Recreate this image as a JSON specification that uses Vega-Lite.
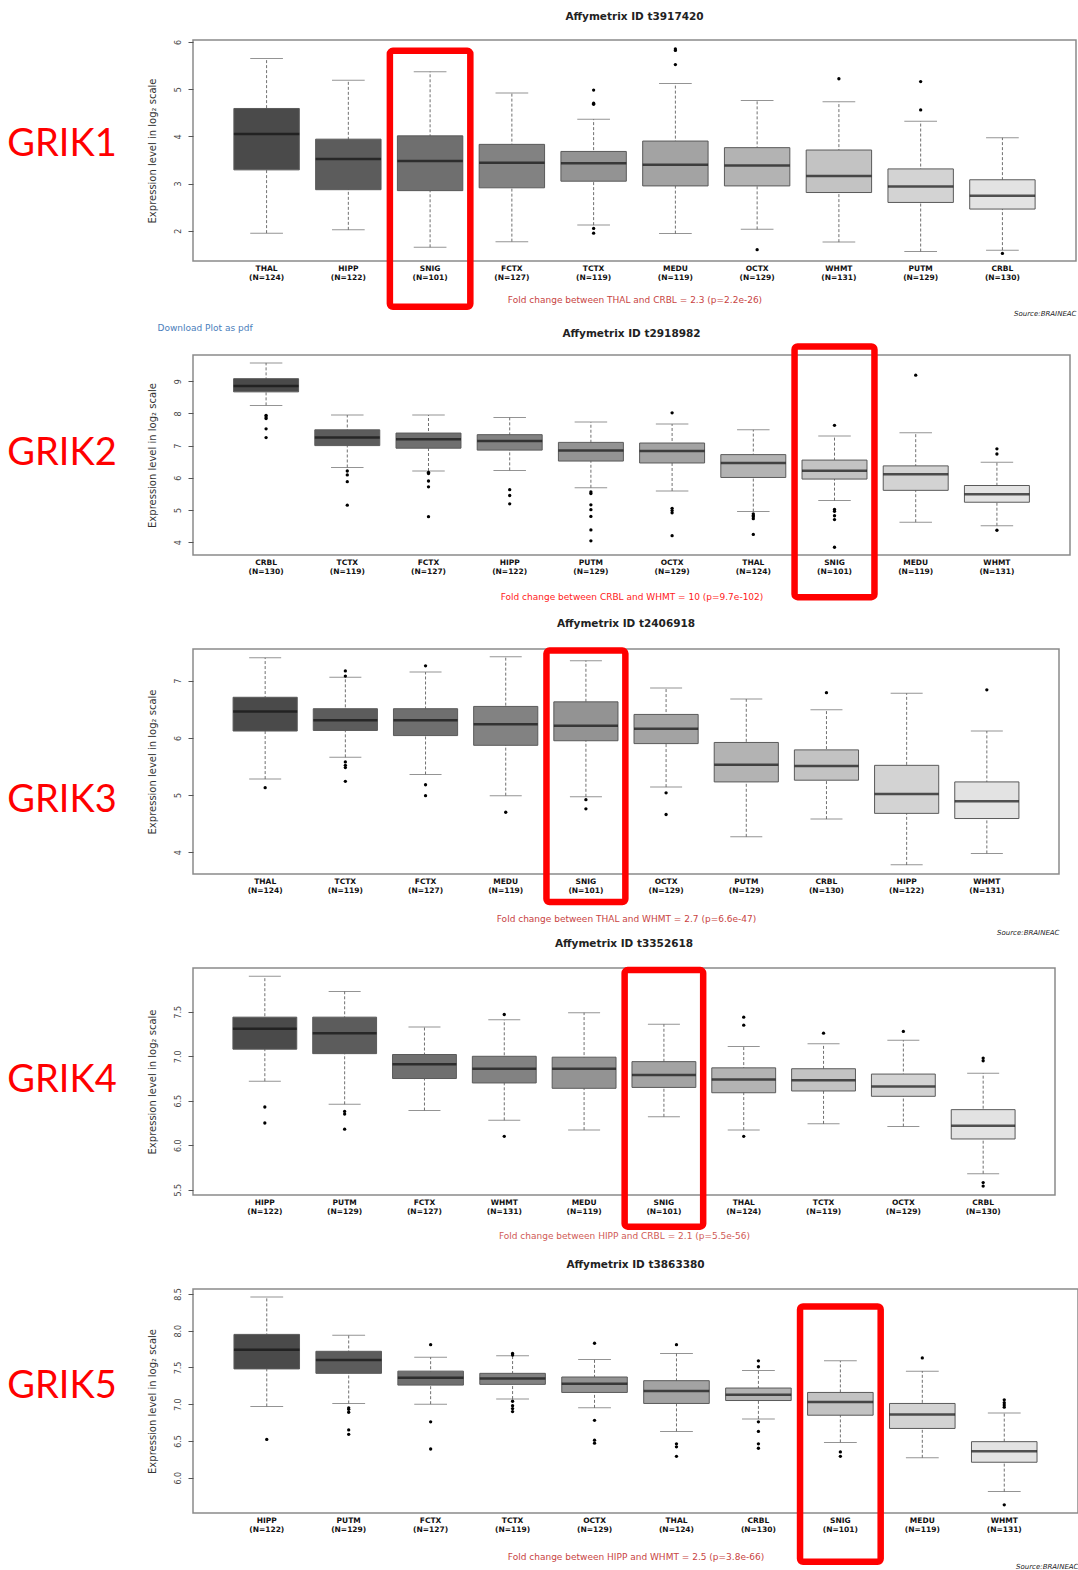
{
"$schema": "https://vega.github.io/schema/vega-lite/v6.json",
"background": "white",
"padding": {"top": 11, "left": 0, "right": 0, "bottom": 0},
"config": {
  "view": {"stroke": "#8a8a8a", "strokeWidth": 1.5},
  "font": "DejaVu Sans",
  "title": {"font": "DejaVu Sans", "fontSize": 10.5, "fontWeight": "bold", "color": "#222222", "offset": 17},
  "axis": {"labelFont": "DejaVu Sans", "titleFont": "DejaVu Sans", "grid": false},
  "axisY": {"labelOverlap": false, "labelSeparation": 0, "labelBound": false, "tickCount": 12}
},
"datasets": {
  "boxes": [
    {"gene":"GRIK1","region":"THAL (N=124)","lo":1.95,"q1":3.29,"med":4.05,"q3":4.59,"hi":5.65},
    {"gene":"GRIK1","region":"HIPP (N=122)","lo":2.02,"q1":2.87,"med":3.52,"q3":3.94,"hi":5.19},
    {"gene":"GRIK1","region":"SNIG (N=101)","lo":1.65,"q1":2.85,"med":3.48,"q3":4.01,"hi":5.37},
    {"gene":"GRIK1","region":"FCTX (N=127)","lo":1.77,"q1":2.91,"med":3.44,"q3":3.83,"hi":4.92},
    {"gene":"GRIK1","region":"TCTX (N=119)","lo":2.12,"q1":3.05,"med":3.43,"q3":3.68,"hi":4.36},
    {"gene":"GRIK1","region":"MEDU (N=119)","lo":1.94,"q1":2.95,"med":3.40,"q3":3.90,"hi":5.12},
    {"gene":"GRIK1","region":"OCTX (N=129)","lo":2.03,"q1":2.95,"med":3.38,"q3":3.76,"hi":4.76},
    {"gene":"GRIK1","region":"WHMT (N=131)","lo":1.76,"q1":2.81,"med":3.16,"q3":3.71,"hi":4.73},
    {"gene":"GRIK1","region":"PUTM (N=129)","lo":1.56,"q1":2.60,"med":2.94,"q3":3.31,"hi":4.32},
    {"gene":"GRIK1","region":"CRBL (N=130)","lo":1.59,"q1":2.46,"med":2.74,"q3":3.08,"hi":3.97},
    {"gene":"GRIK2","region":"CRBL (N=130)","lo":8.25,"q1":8.67,"med":8.85,"q3":9.08,"hi":9.57},
    {"gene":"GRIK2","region":"TCTX (N=119)","lo":6.32,"q1":7.00,"med":7.25,"q3":7.49,"hi":7.95},
    {"gene":"GRIK2","region":"FCTX (N=127)","lo":6.21,"q1":6.92,"med":7.20,"q3":7.39,"hi":7.95},
    {"gene":"GRIK2","region":"HIPP (N=122)","lo":6.23,"q1":6.86,"med":7.14,"q3":7.34,"hi":7.87},
    {"gene":"GRIK2","region":"PUTM (N=129)","lo":5.69,"q1":6.52,"med":6.85,"q3":7.10,"hi":7.73},
    {"gene":"GRIK2","region":"OCTX (N=129)","lo":5.59,"q1":6.46,"med":6.83,"q3":7.08,"hi":7.67},
    {"gene":"GRIK2","region":"THAL (N=124)","lo":4.95,"q1":6.01,"med":6.46,"q3":6.72,"hi":7.49},
    {"gene":"GRIK2","region":"SNIG (N=101)","lo":5.29,"q1":5.96,"med":6.22,"q3":6.55,"hi":7.30},
    {"gene":"GRIK2","region":"MEDU (N=119)","lo":4.62,"q1":5.61,"med":6.11,"q3":6.37,"hi":7.40},
    {"gene":"GRIK2","region":"WHMT (N=131)","lo":4.51,"q1":5.24,"med":5.49,"q3":5.76,"hi":6.48},
    {"gene":"GRIK3","region":"THAL (N=124)","lo":5.28,"q1":6.12,"med":6.46,"q3":6.71,"hi":7.40},
    {"gene":"GRIK3","region":"TCTX (N=119)","lo":5.66,"q1":6.13,"med":6.31,"q3":6.51,"hi":7.06},
    {"gene":"GRIK3","region":"FCTX (N=127)","lo":5.36,"q1":6.04,"med":6.31,"q3":6.51,"hi":7.15},
    {"gene":"GRIK3","region":"MEDU (N=119)","lo":4.99,"q1":5.87,"med":6.24,"q3":6.55,"hi":7.42},
    {"gene":"GRIK3","region":"SNIG (N=101)","lo":4.97,"q1":5.95,"med":6.21,"q3":6.63,"hi":7.35},
    {"gene":"GRIK3","region":"OCTX (N=129)","lo":5.14,"q1":5.90,"med":6.16,"q3":6.41,"hi":6.87},
    {"gene":"GRIK3","region":"PUTM (N=129)","lo":4.27,"q1":5.23,"med":5.53,"q3":5.92,"hi":6.68},
    {"gene":"GRIK3","region":"CRBL (N=130)","lo":4.58,"q1":5.26,"med":5.51,"q3":5.79,"hi":6.49},
    {"gene":"GRIK3","region":"HIPP (N=122)","lo":3.78,"q1":4.68,"med":5.02,"q3":5.52,"hi":6.78},
    {"gene":"GRIK3","region":"WHMT (N=131)","lo":3.98,"q1":4.59,"med":4.89,"q3":5.23,"hi":6.12},
    {"gene":"GRIK4","region":"HIPP (N=122)","lo":6.72,"q1":7.08,"med":7.31,"q3":7.44,"hi":7.90},
    {"gene":"GRIK4","region":"PUTM (N=129)","lo":6.46,"q1":7.03,"med":7.26,"q3":7.44,"hi":7.73},
    {"gene":"GRIK4","region":"FCTX (N=127)","lo":6.39,"q1":6.75,"med":6.91,"q3":7.02,"hi":7.33},
    {"gene":"GRIK4","region":"WHMT (N=131)","lo":6.28,"q1":6.70,"med":6.86,"q3":7.00,"hi":7.41},
    {"gene":"GRIK4","region":"MEDU (N=119)","lo":6.17,"q1":6.64,"med":6.86,"q3":6.99,"hi":7.49},
    {"gene":"GRIK4","region":"SNIG (N=101)","lo":6.32,"q1":6.65,"med":6.79,"q3":6.94,"hi":7.36},
    {"gene":"GRIK4","region":"THAL (N=124)","lo":6.17,"q1":6.59,"med":6.74,"q3":6.87,"hi":7.11},
    {"gene":"GRIK4","region":"TCTX (N=119)","lo":6.24,"q1":6.61,"med":6.73,"q3":6.86,"hi":7.14},
    {"gene":"GRIK4","region":"OCTX (N=129)","lo":6.21,"q1":6.55,"med":6.66,"q3":6.80,"hi":7.18},
    {"gene":"GRIK4","region":"CRBL (N=130)","lo":5.68,"q1":6.07,"med":6.22,"q3":6.40,"hi":6.81},
    {"gene":"GRIK5","region":"HIPP (N=122)","lo":6.97,"q1":7.48,"med":7.74,"q3":7.95,"hi":8.46},
    {"gene":"GRIK5","region":"PUTM (N=129)","lo":7.01,"q1":7.42,"med":7.60,"q3":7.72,"hi":7.94},
    {"gene":"GRIK5","region":"FCTX (N=127)","lo":7.00,"q1":7.26,"med":7.36,"q3":7.45,"hi":7.64},
    {"gene":"GRIK5","region":"TCTX (N=119)","lo":7.07,"q1":7.27,"med":7.35,"q3":7.42,"hi":7.66},
    {"gene":"GRIK5","region":"OCTX (N=129)","lo":6.95,"q1":7.16,"med":7.28,"q3":7.37,"hi":7.61},
    {"gene":"GRIK5","region":"THAL (N=124)","lo":6.63,"q1":7.01,"med":7.18,"q3":7.32,"hi":7.69},
    {"gene":"GRIK5","region":"CRBL (N=130)","lo":6.80,"q1":7.05,"med":7.13,"q3":7.22,"hi":7.46},
    {"gene":"GRIK5","region":"SNIG (N=101)","lo":6.48,"q1":6.85,"med":7.03,"q3":7.16,"hi":7.59},
    {"gene":"GRIK5","region":"MEDU (N=119)","lo":6.27,"q1":6.67,"med":6.86,"q3":7.01,"hi":7.45},
    {"gene":"GRIK5","region":"WHMT (N=131)","lo":5.81,"q1":6.21,"med":6.36,"q3":6.49,"hi":6.88}
  ],
  "outliers": [
    {"gene":"GRIK1","region":"TCTX (N=119)","value":4.98},
    {"gene":"GRIK1","region":"TCTX (N=119)","value":4.70},
    {"gene":"GRIK1","region":"TCTX (N=119)","value":4.68},
    {"gene":"GRIK1","region":"TCTX (N=119)","value":2.05},
    {"gene":"GRIK1","region":"TCTX (N=119)","value":1.95},
    {"gene":"GRIK1","region":"MEDU (N=119)","value":5.85},
    {"gene":"GRIK1","region":"MEDU (N=119)","value":5.82},
    {"gene":"GRIK1","region":"MEDU (N=119)","value":5.52},
    {"gene":"GRIK1","region":"OCTX (N=129)","value":1.60},
    {"gene":"GRIK1","region":"WHMT (N=131)","value":5.22},
    {"gene":"GRIK1","region":"PUTM (N=129)","value":5.16},
    {"gene":"GRIK1","region":"PUTM (N=129)","value":4.56},
    {"gene":"GRIK1","region":"CRBL (N=130)","value":1.52},
    {"gene":"GRIK2","region":"CRBL (N=130)","value":7.94},
    {"gene":"GRIK2","region":"CRBL (N=130)","value":7.89},
    {"gene":"GRIK2","region":"CRBL (N=130)","value":7.84},
    {"gene":"GRIK2","region":"CRBL (N=130)","value":7.52},
    {"gene":"GRIK2","region":"CRBL (N=130)","value":7.25},
    {"gene":"GRIK2","region":"TCTX (N=119)","value":6.21},
    {"gene":"GRIK2","region":"TCTX (N=119)","value":6.09},
    {"gene":"GRIK2","region":"TCTX (N=119)","value":5.88},
    {"gene":"GRIK2","region":"TCTX (N=119)","value":5.15},
    {"gene":"GRIK2","region":"FCTX (N=127)","value":6.17},
    {"gene":"GRIK2","region":"FCTX (N=127)","value":6.13},
    {"gene":"GRIK2","region":"FCTX (N=127)","value":5.90},
    {"gene":"GRIK2","region":"FCTX (N=127)","value":5.72},
    {"gene":"GRIK2","region":"FCTX (N=127)","value":4.79},
    {"gene":"GRIK2","region":"HIPP (N=122)","value":5.63},
    {"gene":"GRIK2","region":"HIPP (N=122)","value":5.45},
    {"gene":"GRIK2","region":"HIPP (N=122)","value":5.19},
    {"gene":"GRIK2","region":"PUTM (N=129)","value":5.56},
    {"gene":"GRIK2","region":"PUTM (N=129)","value":5.51},
    {"gene":"GRIK2","region":"PUTM (N=129)","value":5.16},
    {"gene":"GRIK2","region":"PUTM (N=129)","value":5.01},
    {"gene":"GRIK2","region":"PUTM (N=129)","value":4.80},
    {"gene":"GRIK2","region":"PUTM (N=129)","value":4.38},
    {"gene":"GRIK2","region":"PUTM (N=129)","value":4.04},
    {"gene":"GRIK2","region":"OCTX (N=129)","value":8.02},
    {"gene":"GRIK2","region":"OCTX (N=129)","value":5.05},
    {"gene":"GRIK2","region":"OCTX (N=129)","value":4.98},
    {"gene":"GRIK2","region":"OCTX (N=129)","value":4.91},
    {"gene":"GRIK2","region":"OCTX (N=129)","value":4.20},
    {"gene":"GRIK2","region":"THAL (N=124)","value":4.88},
    {"gene":"GRIK2","region":"THAL (N=124)","value":4.83},
    {"gene":"GRIK2","region":"THAL (N=124)","value":4.79},
    {"gene":"GRIK2","region":"THAL (N=124)","value":4.73},
    {"gene":"GRIK2","region":"THAL (N=124)","value":4.24},
    {"gene":"GRIK2","region":"SNIG (N=101)","value":7.63},
    {"gene":"GRIK2","region":"SNIG (N=101)","value":5.02},
    {"gene":"GRIK2","region":"SNIG (N=101)","value":4.96},
    {"gene":"GRIK2","region":"SNIG (N=101)","value":4.82},
    {"gene":"GRIK2","region":"SNIG (N=101)","value":4.70},
    {"gene":"GRIK2","region":"SNIG (N=101)","value":3.84},
    {"gene":"GRIK2","region":"MEDU (N=119)","value":9.19},
    {"gene":"GRIK2","region":"WHMT (N=131)","value":6.90},
    {"gene":"GRIK2","region":"WHMT (N=131)","value":6.74},
    {"gene":"GRIK2","region":"WHMT (N=131)","value":4.37},
    {"gene":"GRIK3","region":"THAL (N=124)","value":5.13},
    {"gene":"GRIK3","region":"TCTX (N=119)","value":7.17},
    {"gene":"GRIK3","region":"TCTX (N=119)","value":7.08},
    {"gene":"GRIK3","region":"TCTX (N=119)","value":5.58},
    {"gene":"GRIK3","region":"TCTX (N=119)","value":5.52},
    {"gene":"GRIK3","region":"TCTX (N=119)","value":5.48},
    {"gene":"GRIK3","region":"TCTX (N=119)","value":5.24},
    {"gene":"GRIK3","region":"FCTX (N=127)","value":7.26},
    {"gene":"GRIK3","region":"FCTX (N=127)","value":5.18},
    {"gene":"GRIK3","region":"FCTX (N=127)","value":4.99},
    {"gene":"GRIK3","region":"MEDU (N=119)","value":4.70},
    {"gene":"GRIK3","region":"SNIG (N=101)","value":4.92},
    {"gene":"GRIK3","region":"SNIG (N=101)","value":4.76},
    {"gene":"GRIK3","region":"OCTX (N=129)","value":5.04},
    {"gene":"GRIK3","region":"OCTX (N=129)","value":4.66},
    {"gene":"GRIK3","region":"CRBL (N=130)","value":6.79},
    {"gene":"GRIK3","region":"WHMT (N=131)","value":6.84},
    {"gene":"GRIK4","region":"HIPP (N=122)","value":6.43},
    {"gene":"GRIK4","region":"HIPP (N=122)","value":6.25},
    {"gene":"GRIK4","region":"PUTM (N=129)","value":6.38},
    {"gene":"GRIK4","region":"PUTM (N=129)","value":6.35},
    {"gene":"GRIK4","region":"PUTM (N=129)","value":6.18},
    {"gene":"GRIK4","region":"WHMT (N=131)","value":7.47},
    {"gene":"GRIK4","region":"WHMT (N=131)","value":6.10},
    {"gene":"GRIK4","region":"THAL (N=124)","value":7.44},
    {"gene":"GRIK4","region":"THAL (N=124)","value":7.35},
    {"gene":"GRIK4","region":"THAL (N=124)","value":6.10},
    {"gene":"GRIK4","region":"TCTX (N=119)","value":7.26},
    {"gene":"GRIK4","region":"OCTX (N=129)","value":7.28},
    {"gene":"GRIK4","region":"CRBL (N=130)","value":6.98},
    {"gene":"GRIK4","region":"CRBL (N=130)","value":6.95},
    {"gene":"GRIK4","region":"CRBL (N=130)","value":5.58},
    {"gene":"GRIK4","region":"CRBL (N=130)","value":5.54},
    {"gene":"GRIK5","region":"HIPP (N=122)","value":6.52},
    {"gene":"GRIK5","region":"PUTM (N=129)","value":6.95},
    {"gene":"GRIK5","region":"PUTM (N=129)","value":6.93},
    {"gene":"GRIK5","region":"PUTM (N=129)","value":6.89},
    {"gene":"GRIK5","region":"PUTM (N=129)","value":6.65},
    {"gene":"GRIK5","region":"PUTM (N=129)","value":6.59},
    {"gene":"GRIK5","region":"FCTX (N=127)","value":7.81},
    {"gene":"GRIK5","region":"FCTX (N=127)","value":6.76},
    {"gene":"GRIK5","region":"FCTX (N=127)","value":6.39},
    {"gene":"GRIK5","region":"TCTX (N=119)","value":7.69},
    {"gene":"GRIK5","region":"TCTX (N=119)","value":7.67},
    {"gene":"GRIK5","region":"TCTX (N=119)","value":7.04},
    {"gene":"GRIK5","region":"TCTX (N=119)","value":6.98},
    {"gene":"GRIK5","region":"TCTX (N=119)","value":6.94},
    {"gene":"GRIK5","region":"TCTX (N=119)","value":6.90},
    {"gene":"GRIK5","region":"OCTX (N=129)","value":7.83},
    {"gene":"GRIK5","region":"OCTX (N=129)","value":6.78},
    {"gene":"GRIK5","region":"OCTX (N=129)","value":6.51},
    {"gene":"GRIK5","region":"OCTX (N=129)","value":6.47},
    {"gene":"GRIK5","region":"THAL (N=124)","value":7.81},
    {"gene":"GRIK5","region":"THAL (N=124)","value":6.46},
    {"gene":"GRIK5","region":"THAL (N=124)","value":6.42},
    {"gene":"GRIK5","region":"THAL (N=124)","value":6.29},
    {"gene":"GRIK5","region":"CRBL (N=130)","value":7.59},
    {"gene":"GRIK5","region":"CRBL (N=130)","value":7.51},
    {"gene":"GRIK5","region":"CRBL (N=130)","value":6.76},
    {"gene":"GRIK5","region":"CRBL (N=130)","value":6.63},
    {"gene":"GRIK5","region":"CRBL (N=130)","value":6.46},
    {"gene":"GRIK5","region":"CRBL (N=130)","value":6.40},
    {"gene":"GRIK5","region":"SNIG (N=101)","value":6.35},
    {"gene":"GRIK5","region":"SNIG (N=101)","value":6.29},
    {"gene":"GRIK5","region":"MEDU (N=119)","value":7.63},
    {"gene":"GRIK5","region":"WHMT (N=131)","value":7.06},
    {"gene":"GRIK5","region":"WHMT (N=131)","value":7.02},
    {"gene":"GRIK5","region":"WHMT (N=131)","value":6.99},
    {"gene":"GRIK5","region":"WHMT (N=131)","value":6.96},
    {"gene":"GRIK5","region":"WHMT (N=131)","value":5.63}
  ]
},
"spacing": 193,
"bounds": "flush",
"resolve": {"scale": {"color": "independent"}},
"hconcat": [
 {"vconcat": [
   {"width": 124, "height": 221, "view": {"stroke": null}, "data": {"values": [{"gene": "GRIK1"}]},
    "mark": {"type": "text", "font": "Lato", "fontSize": 38, "color": "#ff0000", "dy": -6},
    "encoding": {"text": {"field": "gene"}}},
   {"width": 124, "height": 200, "view": {"stroke": null}, "data": {"values": [{"gene": "GRIK2"}]},
    "mark": {"type": "text", "font": "Lato", "fontSize": 38, "color": "#ff0000", "dy": -1.5},
    "encoding": {"text": {"field": "gene"}}},
   {"width": 124, "height": 225, "view": {"stroke": null}, "data": {"values": [{"gene": "GRIK3"}]},
    "mark": {"type": "text", "font": "Lato", "fontSize": 38, "color": "#ff0000", "dy": 39},
    "encoding": {"text": {"field": "gene"}}},
   {"width": 124, "height": 227, "view": {"stroke": null}, "data": {"values": [{"gene": "GRIK4"}]},
    "mark": {"type": "text", "font": "Lato", "fontSize": 38, "color": "#ff0000", "dy": -1},
    "encoding": {"text": {"field": "gene"}}},
   {"width": 124, "height": 224, "view": {"stroke": null}, "data": {"values": [{"gene": "GRIK5"}]},
    "mark": {"type": "text", "font": "Lato", "fontSize": 38, "color": "#ff0000", "dy": -14.5},
    "encoding": {"text": {"field": "gene"}}}
  ], "spacing": 94, "bounds": "flush"},
 {"vconcat": [
   {"width": 883, "height": 221,
    "title": {"text": "Affymetrix ID t3917420", "offset": 17},
    "resolve": {"axis": {"x": "independent"}},
    "layer": [
     {"data": {"name": "boxes"}, "transform": [{"filter": "datum.gene == 'GRIK1'"}],
      "mark": {"type": "rule", "strokeDash": [3, 2], "color": "#707070", "strokeWidth": 1},
      "encoding": {
        "x": {"field": "region", "type": "nominal", "scale": {"domain": ["THAL (N=124)","HIPP (N=122)","SNIG (N=101)","FCTX (N=127)","TCTX (N=119)","MEDU (N=119)","OCTX (N=129)","WHMT (N=131)","PUTM (N=129)","CRBL (N=130)"], "paddingInner": 0.2, "paddingOuter": 0.5},
          "axis": {"orient": "bottom", "title": "Fold change between THAL and CRBL = 2.3 (p=2.2e-26)", "labelExpr": "split(datum.label, ' ')", "labelAngle": 0, "labelFontSize": 7.5, "labelFontWeight": "bold", "labelColor": "#111111", "labelPadding": 3, "labelLineHeight": 9, "labelOverlap": false, "ticks": false, "tickSize": 0, "domain": false, "titleColor": "#c8433f", "titleFontSize": 9, "titleFontWeight": "normal", "titlePadding": 15}},
        "y": {"field": "lo", "type": "quantitative", "scale": {"domain": [1.36, 6.04], "nice": false, "zero": false},
          "axis": {"values": [2, 3, 4, 5, 6], "tickCount": 12, "format": "d", "title": "Expression level in log₂ scale", "labelAngle": 270, "labelAlign": "center", "labelBaseline": "alphabetic", "labelOverlap": false, "labelBound": false, "labelFontSize": 8, "labelColor": "#444444", "labelPadding": 8, "tickSize": 5, "tickColor": "#555555", "domain": false, "titleFontSize": 10, "titleFontWeight": "normal", "titleColor": "#333333", "titlePadding": 17}},
        "y2": {"field": "hi"}}},
     {"data": {"name": "boxes"}, "transform": [{"filter": "datum.gene == 'GRIK1'"}],
      "mark": {"type": "tick", "color": "#666666", "thickness": 1, "size": 32.7},
      "encoding": {"x": {"field": "region", "type": "nominal", "axis": {"orient": "bottom", "labels": false, "ticks": false, "domain": false, "title": "Source:BRAINEAC", "titleAnchor": "end", "titleFontStyle": "italic", "titleFontSize": 7, "titleFontWeight": "normal", "titleColor": "#222222", "titlePadding": 48}}, "y": {"field": "lo", "type": "quantitative"}}},
     {"data": {"name": "boxes"}, "transform": [{"filter": "datum.gene == 'GRIK1'"}],
      "mark": {"type": "tick", "color": "#666666", "thickness": 1, "size": 32.7},
      "encoding": {"x": {"field": "region", "type": "nominal", "axis": {"orient": "bottom", "labels": false, "ticks": false, "domain": false, "title": "Download Plot as pdf", "titleAnchor": "start", "titleAlign": "left", "titleBaseline": "top", "titleX": -36, "titleY": 62, "titleFontSize": 9, "titleFontWeight": "normal", "titleColor": "#4a7ebb"}}, "y": {"field": "hi", "type": "quantitative"}}},
     {"data": {"name": "boxes"}, "transform": [{"filter": "datum.gene == 'GRIK1'"}],
      "mark": {"type": "bar", "stroke": "#5a5a5a", "strokeWidth": 1},
      "encoding": {"x": {"field": "region", "type": "nominal", "axis": null}, "y": {"field": "q1", "type": "quantitative"}, "y2": {"field": "q3"},
        "color": {"field": "region", "type": "nominal", "legend": null, "scale": {"domain": ["THAL (N=124)","HIPP (N=122)","SNIG (N=101)","FCTX (N=127)","TCTX (N=119)","MEDU (N=119)","OCTX (N=129)","WHMT (N=131)","PUTM (N=129)","CRBL (N=130)"], "range": ["#4a4a4a","#5c5c5c","#6f6f6f","#828282","#939393","#a3a3a3","#b3b3b3","#c3c3c3","#d3d3d3","#e3e3e3"]}}}},
     {"data": {"name": "boxes"}, "transform": [{"filter": "datum.gene == 'GRIK1'"}],
      "mark": {"type": "tick", "color": "#111111", "thickness": 2.5, "size": 65.4},
      "encoding": {"x": {"field": "region", "type": "nominal", "axis": null}, "y": {"field": "med", "type": "quantitative"}}},
     {"data": {"name": "outliers"}, "transform": [{"filter": "datum.gene == 'GRIK1'"}],
      "mark": {"type": "point", "filled": true, "color": "#000000", "size": 11, "opacity": 1},
      "encoding": {"x": {"field": "region", "type": "nominal", "axis": null}, "y": {"field": "value", "type": "quantitative"}}},
     {"data": {"values": [{}]},
      "mark": {"type": "bar", "width": {"band": 1.23}, "fillOpacity": 0, "stroke": "#ff0000", "strokeWidth": 6.5, "cornerRadius": 3},
      "encoding": {"x": {"datum": "SNIG (N=101)", "type": "nominal", "axis": null}, "y": {"datum": 5.81, "type": "quantitative"}, "y2": {"datum": 0.39}}}
    ]},
   {"width": 877, "height": 200,
    "title": {"text": "Affymetrix ID t2918982", "offset": 3.5},
    "resolve": {"axis": {"x": "independent"}},
    "layer": [
     {"data": {"name": "boxes"}, "transform": [{"filter": "datum.gene == 'GRIK2'"}],
      "mark": {"type": "rule", "strokeDash": [3, 2], "color": "#707070", "strokeWidth": 1},
      "encoding": {
        "x": {"field": "region", "type": "nominal", "scale": {"domain": ["CRBL (N=130)","TCTX (N=119)","FCTX (N=127)","HIPP (N=122)","PUTM (N=129)","OCTX (N=129)","THAL (N=124)","SNIG (N=101)","MEDU (N=119)","WHMT (N=131)"], "paddingInner": 0.2, "paddingOuter": 0.5},
          "axis": {"orient": "bottom", "title": "Fold change between CRBL and WHMT = 10 (p=9.7e-102)", "labelExpr": "split(datum.label, ' ')", "labelAngle": 0, "labelFontSize": 7.5, "labelFontWeight": "bold", "labelColor": "#111111", "labelPadding": 3, "labelLineHeight": 9, "labelOverlap": false, "ticks": false, "tickSize": 0, "domain": false, "titleColor": "#ff1a1a", "titleFontSize": 9, "titleFontWeight": "normal", "titlePadding": 17.5}},
        "y": {"field": "lo", "type": "quantitative", "scale": {"domain": [3.60, 9.816], "nice": false, "zero": false},
          "axis": {"values": [4, 5, 6, 7, 8, 9], "tickCount": 12, "format": "d", "title": "Expression level in log₂ scale", "labelAngle": 270, "labelAlign": "center", "labelBaseline": "alphabetic", "labelOverlap": false, "labelSeparation": 0, "labelBound": false, "labelFontSize": 8, "labelColor": "#444444", "labelPadding": 8, "tickSize": 5, "tickColor": "#555555", "domain": false, "titleFontSize": 10, "titleFontWeight": "normal", "titleColor": "#333333", "titlePadding": 17}},
        "y2": {"field": "hi"}}},
     {"data": {"name": "boxes"}, "transform": [{"filter": "datum.gene == 'GRIK2'"}],
      "mark": {"type": "tick", "color": "#666666", "thickness": 1, "size": 32.5},
      "encoding": {"x": {"field": "region", "type": "nominal", "axis": null}, "y": {"field": "lo", "type": "quantitative"}}},
     {"data": {"name": "boxes"}, "transform": [{"filter": "datum.gene == 'GRIK2'"}],
      "mark": {"type": "tick", "color": "#666666", "thickness": 1, "size": 32.5},
      "encoding": {"x": {"field": "region", "type": "nominal", "axis": null}, "y": {"field": "hi", "type": "quantitative"}}},
     {"data": {"name": "boxes"}, "transform": [{"filter": "datum.gene == 'GRIK2'"}],
      "mark": {"type": "bar", "stroke": "#5a5a5a", "strokeWidth": 1},
      "encoding": {"x": {"field": "region", "type": "nominal", "axis": null}, "y": {"field": "q1", "type": "quantitative"}, "y2": {"field": "q3"},
        "color": {"field": "region", "type": "nominal", "legend": null, "scale": {"domain": ["CRBL (N=130)","TCTX (N=119)","FCTX (N=127)","HIPP (N=122)","PUTM (N=129)","OCTX (N=129)","THAL (N=124)","SNIG (N=101)","MEDU (N=119)","WHMT (N=131)"], "range": ["#4a4a4a","#5c5c5c","#6f6f6f","#828282","#939393","#a3a3a3","#b3b3b3","#c3c3c3","#d3d3d3","#e3e3e3"]}}}},
     {"data": {"name": "boxes"}, "transform": [{"filter": "datum.gene == 'GRIK2'"}],
      "mark": {"type": "tick", "color": "#111111", "thickness": 2.5, "size": 65},
      "encoding": {"x": {"field": "region", "type": "nominal", "axis": null}, "y": {"field": "med", "type": "quantitative"}}},
     {"data": {"name": "outliers"}, "transform": [{"filter": "datum.gene == 'GRIK2'"}],
      "mark": {"type": "point", "filled": true, "color": "#000000", "size": 11, "opacity": 1},
      "encoding": {"x": {"field": "region", "type": "nominal", "axis": null}, "y": {"field": "value", "type": "quantitative"}}},
     {"data": {"values": [{}]},
      "mark": {"type": "bar", "width": {"band": 1.23}, "fillOpacity": 0, "stroke": "#ff0000", "strokeWidth": 6.5, "cornerRadius": 3},
      "encoding": {"x": {"datum": "SNIG (N=101)", "type": "nominal", "axis": null}, "y": {"datum": 10.08, "type": "quantitative"}, "y2": {"datum": 2.29}}}
    ]},
   {"width": 866, "height": 225,
    "title": {"text": "Affymetrix ID t2406918", "offset": 17.5},
    "resolve": {"axis": {"x": "independent"}},
    "layer": [
     {"data": {"name": "boxes"}, "transform": [{"filter": "datum.gene == 'GRIK3'"}],
      "mark": {"type": "rule", "strokeDash": [3, 2], "color": "#707070", "strokeWidth": 1},
      "encoding": {
        "x": {"field": "region", "type": "nominal", "scale": {"domain": ["THAL (N=124)","TCTX (N=119)","FCTX (N=127)","MEDU (N=119)","SNIG (N=101)","OCTX (N=129)","PUTM (N=129)","CRBL (N=130)","HIPP (N=122)","WHMT (N=131)"], "paddingInner": 0.2, "paddingOuter": 0.5},
          "axis": {"orient": "bottom", "title": "Fold change between THAL and WHMT = 2.7 (p=6.6e-47)", "labelExpr": "split(datum.label, ' ')", "labelAngle": 0, "labelFontSize": 7.5, "labelFontWeight": "bold", "labelColor": "#111111", "labelPadding": 3, "labelLineHeight": 9, "labelOverlap": false, "ticks": false, "tickSize": 0, "domain": false, "titleColor": "#c8433f", "titleFontSize": 9, "titleFontWeight": "normal", "titlePadding": 21}},
        "y": {"field": "lo", "type": "quantitative", "scale": {"domain": [3.62, 7.554], "nice": false, "zero": false},
          "axis": {"values": [4, 5, 6, 7], "tickCount": 12, "format": "d", "title": "Expression level in log₂ scale", "labelAngle": 270, "labelAlign": "center", "labelBaseline": "alphabetic", "labelOverlap": false, "labelBound": false, "labelFontSize": 8, "labelColor": "#444444", "labelPadding": 8, "tickSize": 5, "tickColor": "#555555", "domain": false, "titleFontSize": 10, "titleFontWeight": "normal", "titleColor": "#333333", "titlePadding": 17}},
        "y2": {"field": "hi"}}},
     {"data": {"name": "boxes"}, "transform": [{"filter": "datum.gene == 'GRIK3'"}],
      "mark": {"type": "tick", "color": "#666666", "thickness": 1, "size": 32},
      "encoding": {"x": {"field": "region", "type": "nominal", "axis": {"orient": "bottom", "labels": false, "ticks": false, "domain": false, "title": "Source:BRAINEAC", "titleAnchor": "end", "titleFontStyle": "italic", "titleFontSize": 7, "titleFontWeight": "normal", "titleColor": "#222222", "titlePadding": 54}}, "y": {"field": "lo", "type": "quantitative"}}},
     {"data": {"name": "boxes"}, "transform": [{"filter": "datum.gene == 'GRIK3'"}],
      "mark": {"type": "tick", "color": "#666666", "thickness": 1, "size": 32},
      "encoding": {"x": {"field": "region", "type": "nominal", "axis": null}, "y": {"field": "hi", "type": "quantitative"}}},
     {"data": {"name": "boxes"}, "transform": [{"filter": "datum.gene == 'GRIK3'"}],
      "mark": {"type": "bar", "stroke": "#5a5a5a", "strokeWidth": 1},
      "encoding": {"x": {"field": "region", "type": "nominal", "axis": null}, "y": {"field": "q1", "type": "quantitative"}, "y2": {"field": "q3"},
        "color": {"field": "region", "type": "nominal", "legend": null, "scale": {"domain": ["THAL (N=124)","TCTX (N=119)","FCTX (N=127)","MEDU (N=119)","SNIG (N=101)","OCTX (N=129)","PUTM (N=129)","CRBL (N=130)","HIPP (N=122)","WHMT (N=131)"], "range": ["#4a4a4a","#5c5c5c","#6f6f6f","#828282","#939393","#a3a3a3","#b3b3b3","#c3c3c3","#d3d3d3","#e3e3e3"]}}}},
     {"data": {"name": "boxes"}, "transform": [{"filter": "datum.gene == 'GRIK3'"}],
      "mark": {"type": "tick", "color": "#111111", "thickness": 2.5, "size": 64.1},
      "encoding": {"x": {"field": "region", "type": "nominal", "axis": null}, "y": {"field": "med", "type": "quantitative"}}},
     {"data": {"name": "outliers"}, "transform": [{"filter": "datum.gene == 'GRIK3'"}],
      "mark": {"type": "point", "filled": true, "color": "#000000", "size": 11, "opacity": 1},
      "encoding": {"x": {"field": "region", "type": "nominal", "axis": null}, "y": {"field": "value", "type": "quantitative"}}},
     {"data": {"values": [{}]},
      "mark": {"type": "bar", "width": {"band": 1.23}, "fillOpacity": 0, "stroke": "#ff0000", "strokeWidth": 6.5, "cornerRadius": 3},
      "encoding": {"x": {"datum": "SNIG (N=101)", "type": "nominal", "axis": null}, "y": {"datum": 7.526, "type": "quantitative"}, "y2": {"datum": 3.129}}}
    ]},
   {"width": 862, "height": 227,
    "title": {"text": "Affymetrix ID t3352618", "offset": 17},
    "resolve": {"axis": {"x": "independent"}},
    "layer": [
     {"data": {"name": "boxes"}, "transform": [{"filter": "datum.gene == 'GRIK4'"}],
      "mark": {"type": "rule", "strokeDash": [3, 2], "color": "#707070", "strokeWidth": 1},
      "encoding": {
        "x": {"field": "region", "type": "nominal", "scale": {"domain": ["HIPP (N=122)","PUTM (N=129)","FCTX (N=127)","WHMT (N=131)","MEDU (N=119)","SNIG (N=101)","THAL (N=124)","TCTX (N=119)","OCTX (N=129)","CRBL (N=130)"], "paddingInner": 0.2, "paddingOuter": 0.5},
          "axis": {"orient": "bottom", "title": "Fold change between HIPP and CRBL = 2.1 (p=5.5e-56)", "labelExpr": "split(datum.label, ' ')", "labelAngle": 0, "labelFontSize": 7.5, "labelFontWeight": "bold", "labelColor": "#111111", "labelPadding": 3, "labelLineHeight": 9, "labelOverlap": false, "ticks": false, "tickSize": 0, "domain": false, "titleColor": "#d05a55", "titleFontSize": 9, "titleFontWeight": "normal", "titlePadding": 17}},
        "y": {"field": "lo", "type": "quantitative", "scale": {"domain": [5.44, 7.993], "nice": false, "zero": false},
          "axis": {"values": [5.5, 6, 6.5, 7, 7.5], "tickCount": 12, "format": ".1f", "title": "Expression level in log₂ scale", "labelAngle": 270, "labelAlign": "center", "labelBaseline": "alphabetic", "labelOverlap": false, "labelBound": false, "labelFontSize": 8, "labelColor": "#444444", "labelPadding": 8, "tickSize": 5, "tickColor": "#555555", "domain": false, "titleFontSize": 10, "titleFontWeight": "normal", "titleColor": "#333333", "titlePadding": 17}},
        "y2": {"field": "hi"}}},
     {"data": {"name": "boxes"}, "transform": [{"filter": "datum.gene == 'GRIK4'"}],
      "mark": {"type": "tick", "color": "#666666", "thickness": 1, "size": 32},
      "encoding": {"x": {"field": "region", "type": "nominal", "axis": null}, "y": {"field": "lo", "type": "quantitative"}}},
     {"data": {"name": "boxes"}, "transform": [{"filter": "datum.gene == 'GRIK4'"}],
      "mark": {"type": "tick", "color": "#666666", "thickness": 1, "size": 32},
      "encoding": {"x": {"field": "region", "type": "nominal", "axis": null}, "y": {"field": "hi", "type": "quantitative"}}},
     {"data": {"name": "boxes"}, "transform": [{"filter": "datum.gene == 'GRIK4'"}],
      "mark": {"type": "bar", "stroke": "#5a5a5a", "strokeWidth": 1},
      "encoding": {"x": {"field": "region", "type": "nominal", "axis": null}, "y": {"field": "q1", "type": "quantitative"}, "y2": {"field": "q3"},
        "color": {"field": "region", "type": "nominal", "legend": null, "scale": {"domain": ["HIPP (N=122)","PUTM (N=129)","FCTX (N=127)","WHMT (N=131)","MEDU (N=119)","SNIG (N=101)","THAL (N=124)","TCTX (N=119)","OCTX (N=129)","CRBL (N=130)"], "range": ["#4a4a4a","#5c5c5c","#6f6f6f","#828282","#939393","#a3a3a3","#b3b3b3","#c3c3c3","#d3d3d3","#e3e3e3"]}}}},
     {"data": {"name": "boxes"}, "transform": [{"filter": "datum.gene == 'GRIK4'"}],
      "mark": {"type": "tick", "color": "#111111", "thickness": 2.5, "size": 63.9},
      "encoding": {"x": {"field": "region", "type": "nominal", "axis": null}, "y": {"field": "med", "type": "quantitative"}}},
     {"data": {"name": "outliers"}, "transform": [{"filter": "datum.gene == 'GRIK4'"}],
      "mark": {"type": "point", "filled": true, "color": "#000000", "size": 11, "opacity": 1},
      "encoding": {"x": {"field": "region", "type": "nominal", "axis": null}, "y": {"field": "value", "type": "quantitative"}}},
     {"data": {"values": [{}]},
      "mark": {"type": "bar", "width": {"band": 1.23}, "fillOpacity": 0, "stroke": "#ff0000", "strokeWidth": 6.5, "cornerRadius": 3},
      "encoding": {"x": {"datum": "SNIG (N=101)", "type": "nominal", "axis": null}, "y": {"datum": 7.970, "type": "quantitative"}, "y2": {"datum": 5.084}}}
    ]},
   {"width": 885, "height": 224,
    "title": {"text": "Affymetrix ID t3863380", "offset": 17},
    "resolve": {"axis": {"x": "independent"}},
    "layer": [
     {"data": {"name": "boxes"}, "transform": [{"filter": "datum.gene == 'GRIK5'"}],
      "mark": {"type": "rule", "strokeDash": [3, 2], "color": "#707070", "strokeWidth": 1},
      "encoding": {
        "x": {"field": "region", "type": "nominal", "scale": {"domain": ["HIPP (N=122)","PUTM (N=129)","FCTX (N=127)","TCTX (N=119)","OCTX (N=129)","THAL (N=124)","CRBL (N=130)","SNIG (N=101)","MEDU (N=119)","WHMT (N=131)"], "paddingInner": 0.2, "paddingOuter": 0.5},
          "axis": {"orient": "bottom", "title": "Fold change between HIPP and WHMT = 2.5 (p=3.8e-66)", "labelExpr": "split(datum.label, ' ')", "labelAngle": 0, "labelFontSize": 7.5, "labelFontWeight": "bold", "labelColor": "#111111", "labelPadding": 3, "labelLineHeight": 9, "labelOverlap": false, "ticks": false, "tickSize": 0, "domain": false, "titleColor": "#c8433f", "titleFontSize": 9, "titleFontWeight": "normal", "titlePadding": 20}},
        "y": {"field": "lo", "type": "quantitative", "scale": {"domain": [5.519, 8.568], "nice": false, "zero": false},
          "axis": {"values": [6, 6.5, 7, 7.5, 8, 8.5], "tickCount": 12, "format": ".1f", "title": "Expression level in log₂ scale", "labelAngle": 270, "labelAlign": "center", "labelBaseline": "alphabetic", "labelOverlap": false, "labelBound": false, "labelFontSize": 8, "labelColor": "#444444", "labelPadding": 8, "tickSize": 5, "tickColor": "#555555", "domain": false, "titleFontSize": 10, "titleFontWeight": "normal", "titleColor": "#333333", "titlePadding": 17}},
        "y2": {"field": "hi"}}},
     {"data": {"name": "boxes"}, "transform": [{"filter": "datum.gene == 'GRIK5'"}],
      "mark": {"type": "tick", "color": "#666666", "thickness": 1, "size": 32.8},
      "encoding": {"x": {"field": "region", "type": "nominal", "axis": {"orient": "bottom", "labels": false, "ticks": false, "domain": false, "title": "Source:BRAINEAC", "titleAnchor": "end", "titleFontStyle": "italic", "titleFontSize": 7, "titleFontWeight": "normal", "titleColor": "#222222", "titlePadding": 49}}, "y": {"field": "lo", "type": "quantitative"}}},
     {"data": {"name": "boxes"}, "transform": [{"filter": "datum.gene == 'GRIK5'"}],
      "mark": {"type": "tick", "color": "#666666", "thickness": 1, "size": 32.8},
      "encoding": {"x": {"field": "region", "type": "nominal", "axis": null}, "y": {"field": "hi", "type": "quantitative"}}},
     {"data": {"name": "boxes"}, "transform": [{"filter": "datum.gene == 'GRIK5'"}],
      "mark": {"type": "bar", "stroke": "#5a5a5a", "strokeWidth": 1},
      "encoding": {"x": {"field": "region", "type": "nominal", "axis": null}, "y": {"field": "q1", "type": "quantitative"}, "y2": {"field": "q3"},
        "color": {"field": "region", "type": "nominal", "legend": null, "scale": {"domain": ["HIPP (N=122)","PUTM (N=129)","FCTX (N=127)","TCTX (N=119)","OCTX (N=129)","THAL (N=124)","CRBL (N=130)","SNIG (N=101)","MEDU (N=119)","WHMT (N=131)"], "range": ["#4a4a4a","#5c5c5c","#6f6f6f","#828282","#939393","#a3a3a3","#b3b3b3","#c3c3c3","#d3d3d3","#e3e3e3"]}}}},
     {"data": {"name": "boxes"}, "transform": [{"filter": "datum.gene == 'GRIK5'"}],
      "mark": {"type": "tick", "color": "#111111", "thickness": 2.5, "size": 65.6},
      "encoding": {"x": {"field": "region", "type": "nominal", "axis": null}, "y": {"field": "med", "type": "quantitative"}}},
     {"data": {"name": "outliers"}, "transform": [{"filter": "datum.gene == 'GRIK5'"}],
      "mark": {"type": "point", "filled": true, "color": "#000000", "size": 11, "opacity": 1},
      "encoding": {"x": {"field": "region", "type": "nominal", "axis": null}, "y": {"field": "value", "type": "quantitative"}}},
     {"data": {"values": [{}]},
      "mark": {"type": "bar", "width": {"band": 1.23}, "fillOpacity": 0, "stroke": "#ff0000", "strokeWidth": 6.5, "cornerRadius": 3},
      "encoding": {"x": {"datum": "SNIG (N=101)", "type": "nominal", "axis": null}, "y": {"datum": 8.331, "type": "quantitative"}, "y2": {"datum": 4.855}}}
    ]}
  ], "spacing": 94, "bounds": "flush", "resolve": {"scale": {"color": "independent"}}}
]
}
